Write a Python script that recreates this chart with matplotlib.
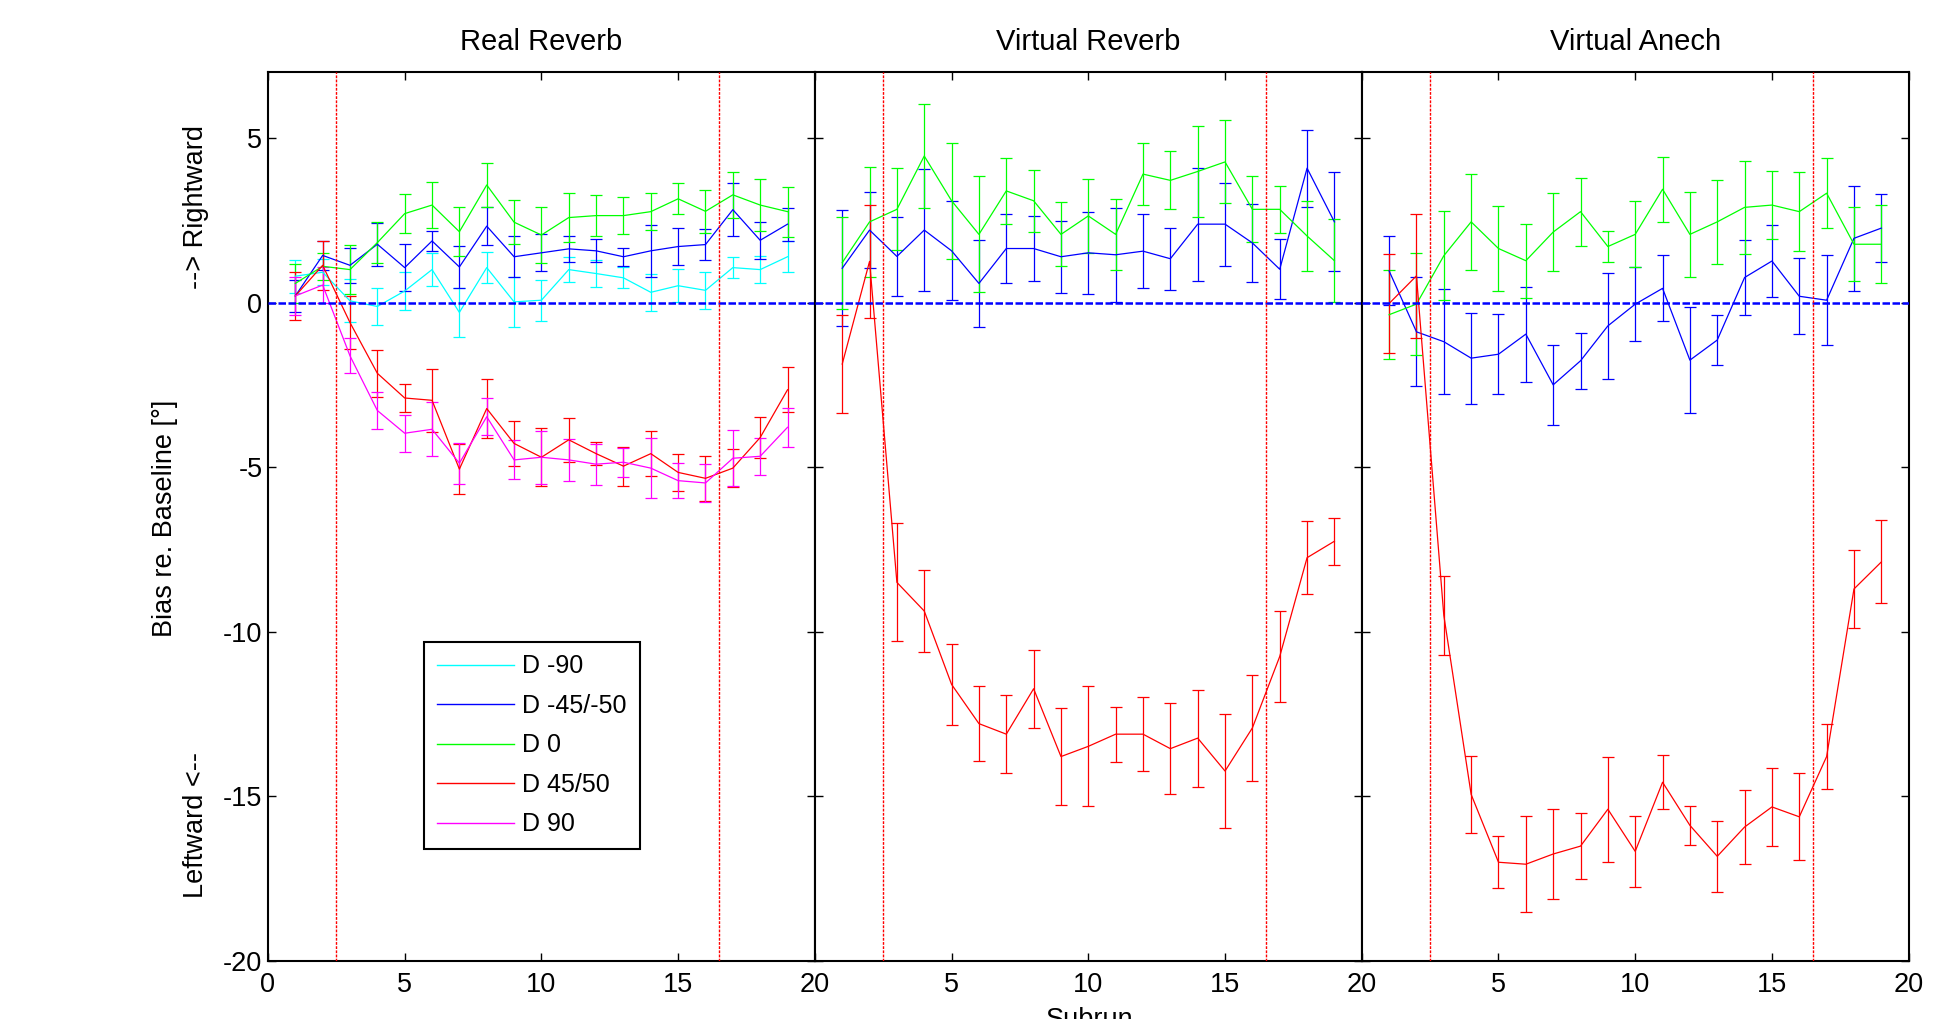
import matplotlib
matplotlib.use('Agg')
import matplotlib.pyplot as plt
from matplotlib.lines import Line2D

plt.rcParams['font.family'] = ['Liberation Sans', 'DejaVu Sans']
plt.rcParams['axes.unicode_minus'] = False

# subrun index
subrun = list(range(1, 20))

panel_titles = ['Real Reverb', 'Virtual Reverb', 'Virtual Anech']
legend_labels = ['D -90', 'D -45/-50', 'D 0', 'D 45/50', 'D 90']
series_colors = ['cyan', 'blue', 'lime', 'red', 'magenta']

# --- Real Reverb ---
cyan_rr = [0.80, 0.92, 0.05, -0.12, 0.35, 1.00, -0.30, 1.06, 0.02, 0.07, 1.00, 0.88, 0.75, 0.31, 0.51, 0.37, 1.06, 1.00, 1.39]
cyan_rr_err = [0.50, 0.40, 0.65, 0.55, 0.57, 0.50, 0.75, 0.47, 0.76, 0.62, 0.37, 0.40, 0.32, 0.57, 0.50, 0.57, 0.31, 0.40, 0.47]
blue_rr = [0.20, 1.43, 1.13, 1.77, 1.06, 1.87, 1.08, 2.32, 1.39, 1.51, 1.63, 1.57, 1.39, 1.57, 1.70, 1.76, 2.82, 1.89, 2.38]
blue_rr_err = [0.48, 0.45, 0.54, 0.66, 0.72, 0.30, 0.63, 0.57, 0.63, 0.56, 0.40, 0.35, 0.28, 0.78, 0.56, 0.47, 0.81, 0.57, 0.50]
green_rr = [0.58, 1.10, 1.00, 1.82, 2.70, 2.96, 2.15, 3.57, 2.44, 2.05, 2.58, 2.64, 2.64, 2.76, 3.15, 2.77, 3.27, 2.96, 2.76]
green_rr_err = [0.60, 0.41, 0.75, 0.63, 0.60, 0.69, 0.75, 0.66, 0.66, 0.85, 0.75, 0.63, 0.57, 0.57, 0.47, 0.66, 0.69, 0.78, 0.76]
red_rr = [0.20, 1.13, -0.61, -2.15, -2.90, -2.97, -5.06, -3.22, -4.28, -4.70, -4.17, -4.59, -4.97, -4.59, -5.16, -5.34, -5.03, -4.10, -2.65]
red_rr_err = [0.73, 0.75, 0.80, 0.72, 0.42, 0.95, 0.75, 0.90, 0.69, 0.88, 0.66, 0.35, 0.59, 0.69, 0.56, 0.69, 0.57, 0.63, 0.69]
mag_rr = [0.20, 0.53, -1.62, -3.28, -3.97, -3.85, -4.88, -3.47, -4.78, -4.70, -4.78, -4.91, -4.85, -5.03, -5.41, -5.48, -4.73, -4.67, -3.79]
mag_rr_err = [0.57, 0.55, 0.53, 0.57, 0.56, 0.82, 0.62, 0.56, 0.59, 0.81, 0.63, 0.62, 0.44, 0.91, 0.53, 0.57, 0.85, 0.56, 0.60]

# --- Virtual Reverb ---
blue_vr = [1.04, 2.20, 1.40, 2.20, 1.57, 0.58, 1.64, 1.64, 1.39, 1.51, 1.45, 1.56, 1.33, 2.38, 2.38, 1.81, 1.01, 4.08, 2.45]
blue_vr_err = [1.76, 1.16, 1.20, 1.85, 1.50, 1.32, 1.04, 0.98, 1.10, 1.25, 1.42, 1.13, 0.94, 1.72, 1.26, 1.19, 0.91, 1.17, 1.50]
green_vr = [1.21, 2.45, 2.83, 4.45, 3.09, 2.07, 3.39, 3.09, 2.07, 2.63, 2.07, 3.90, 3.71, 3.98, 4.27, 2.83, 2.83, 2.02, 1.27]
green_vr_err = [1.40, 1.66, 1.25, 1.58, 1.76, 1.76, 1.00, 0.94, 0.97, 1.13, 1.07, 0.94, 0.88, 1.38, 1.26, 1.00, 0.72, 1.07, 1.26]
red_vr = [-1.87, 1.25, -8.50, -9.37, -11.60, -12.79, -13.11, -11.73, -13.79, -13.48, -13.11, -13.11, -13.55, -13.23, -14.23, -12.92, -10.75, -7.75, -7.25]
red_vr_err = [1.48, 1.72, 1.79, 1.25, 1.23, 1.13, 1.19, 1.19, 1.48, 1.82, 0.84, 1.13, 1.39, 1.47, 1.73, 1.60, 1.38, 1.10, 0.72]

# --- Virtual Anech ---
blue_va = [0.96, -0.89, -1.19, -1.69, -1.57, -0.96, -2.50, -1.77, -0.71, -0.05, 0.43, -1.75, -1.14, 0.76, 1.26, 0.19, 0.07, 1.95, 2.26]
blue_va_err = [1.05, 1.66, 1.60, 1.38, 1.22, 1.44, 1.22, 0.85, 1.60, 1.13, 1.00, 1.60, 0.75, 1.13, 1.10, 1.16, 1.36, 1.60, 1.03]
green_va = [-0.37, -0.05, 1.42, 2.45, 1.64, 1.27, 2.14, 2.76, 1.70, 2.07, 3.44, 2.07, 2.45, 2.89, 2.96, 2.76, 3.32, 1.77, 1.77]
green_va_err = [1.35, 1.54, 1.35, 1.45, 1.29, 1.12, 1.19, 1.03, 0.47, 1.00, 0.98, 1.29, 1.28, 1.42, 1.03, 1.19, 1.07, 1.13, 1.19]
red_va = [-0.03, 0.81, -9.50, -14.94, -17.00, -17.06, -16.75, -16.51, -15.39, -16.67, -14.57, -15.88, -16.82, -15.93, -15.32, -15.62, -13.79, -8.70, -7.88]
red_va_err = [1.50, 1.88, 1.20, 1.16, 0.79, 1.45, 1.38, 1.00, 1.60, 1.07, 0.82, 0.59, 1.07, 1.13, 1.19, 1.32, 0.98, 1.19, 1.26]

# which series appear in each panel: (color index, values, errors)
panels = [
    [(0, cyan_rr, cyan_rr_err), (1, blue_rr, blue_rr_err), (2, green_rr, green_rr_err),
     (3, red_rr, red_rr_err), (4, mag_rr, mag_rr_err)],
    [(1, blue_vr, blue_vr_err), (2, green_vr, green_vr_err), (3, red_vr, red_vr_err)],
    [(1, blue_va, blue_va_err), (2, green_va, green_va_err), (3, red_va, red_va_err)],
]

phase_lines = [2.5, 16.5]

fig = plt.figure(figsize=(19.56, 10.19), dpi=100)
lefts = [0.1370, 0.4166, 0.6962]
w, b, h = 0.2796, 0.0569, 0.8724

axes = []
for i, series in enumerate(panels):
    ax = fig.add_axes([lefts[i], b, w, h])
    axes.append(ax)
    for ci, vals, errs in series:
        ax.errorbar(subrun, vals, yerr=errs, color=series_colors[ci], lw=0.9,
                    elinewidth=0.9, capsize=4, capthick=0.9)
    ax.axhline(0, color='blue', lw=1.8, ls=(0, (3, 1)), zorder=5)
    for xv in phase_lines:
        ax.axvline(xv, color='red', lw=1.0, ls=(0, (2, 1)), zorder=5)
    ax.set_xlim(0, 20)
    ax.set_ylim(-20, 7)
    ax.set_xticks([0, 5, 10, 15, 20])
    ax.set_yticks([-20, -15, -10, -5, 0, 5])
    ax.tick_params(direction='in', top=True, right=True, length=6, width=1,
                   labelsize=19.5, pad=8)
    ax.tick_params(axis='y', pad=4)
    if i == 0:
        ax.set_xticklabels(['0', '5', '10', '15', '20'])
    else:
        ax.set_xticklabels(['', '5', '10', '15', '20'])
        ax.set_yticklabels([])
    for sp in ax.spines.values():
        sp.set_linewidth(1.5)
    ax.set_title(panel_titles[i], fontsize=21, pad=16)

# legend in the first panel
handles = [Line2D([0], [0], color=c, lw=1) for c in series_colors]
leg = axes[0].legend(handles, legend_labels, loc='upper left',
                     bbox_to_anchor=(0.286, 0.359, 0.394, 0.0), mode='expand',
                     borderaxespad=0, fontsize=18, handlelength=3.1,
                     handletextpad=0.3, labelspacing=0.62, borderpad=0.5,
                     fancybox=False, framealpha=1, edgecolor='black')
leg.get_frame().set_linewidth(1.5)

# y label and direction hints next to the y axis
fig.text(165 / 1956, 1 - 518 / 1019, 'Bias re. Baseline [°]', rotation=90,
         ha='center', va='center', fontsize=19.5)
fig.text(196 / 1956, 1 - 207 / 1019, '--> Rightward', rotation=90,
         ha='center', va='center', fontsize=19.5)
fig.text(196 / 1956, 1 - 825 / 1019, 'Leftward <--', rotation=90,
         ha='center', va='center', fontsize=19.5)

# x label, partly cut off at the bottom edge as in the source figure
fig.text(0.557, -0.008, 'Subrun', ha='center', va='baseline', fontsize=19.5)

fig.savefig('out.png', dpi=100)
